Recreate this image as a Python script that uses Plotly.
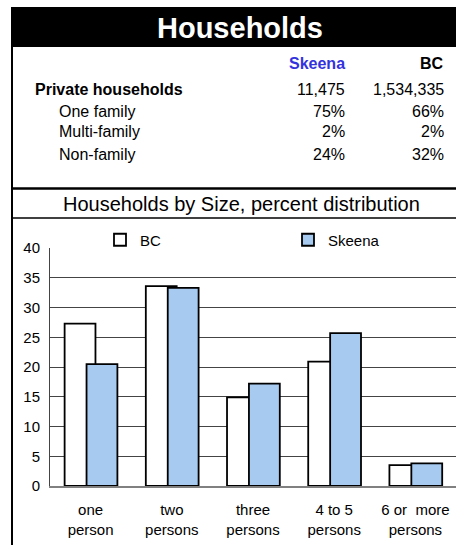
import plotly.graph_objects as go

categories = ["one<br>person", "two<br>persons", "three<br>persons", "4 to 5<br>persons", "6 or  more<br>persons"]
bc_values = [27.3, 33.6, 14.9, 20.9, 3.5]
skeena_values = [20.5, 33.3, 17.2, 25.7, 3.8]

table_rows = ["Private households", "One family", "Multi-family", "Non-family"]
table_skeena = ["11,475", "75%", "2%", "24%"]
table_bc = ["1,534,335", "66%", "2%", "32%"]

W, H = 456, 545
L, R, T, B = 50, 0, 248, 59
PW, PH = W - L - R, H - T - B
FONT = "Liberation Sans, Arial, sans-serif"


def xp(px):
    return (px - L) / PW


def yp(py):
    return (H - B - py) / PH


fig = go.Figure()
fig.add_trace(go.Bar(
    x=categories, y=bc_values, name="BC",
    marker=dict(color="white", line=dict(color="black", width=1.8)),
    offset=-0.32, width=0.38, legend="legend",
))
fig.add_trace(go.Bar(
    x=categories, y=skeena_values, name="Skeena",
    marker=dict(color="#a6caf0", line=dict(color="black", width=1.8)),
    offset=-0.05, width=0.38, legend="legend2",
))

shapes = [
    dict(type="rect", xref="paper", yref="paper", x0=xp(12), x1=xp(460), y0=yp(47), y1=yp(7),
         fillcolor="black", line=dict(width=0), layer="below"),
    dict(type="line", xref="paper", yref="paper", x0=xp(12), x1=xp(12), y0=yp(7), y1=yp(548),
         line=dict(color="black", width=2)),
    dict(type="line", xref="paper", yref="paper", x0=xp(12), x1=xp(460), y0=yp(188.5), y1=yp(188.5),
         line=dict(color="black", width=2.5)),
    dict(type="line", xref="paper", yref="paper", x0=xp(12), x1=xp(460), y0=yp(218), y1=yp(218),
         line=dict(color="black", width=1.5)),
]

annotations = [
    dict(text="<b>Households</b>", x=xp(240), y=yp(28), font=dict(size=29, color="white")),
    dict(text="<b>Skeena</b>", x=xp(347), y=yp(63.5), xanchor="right", font=dict(size=16, color="#3333dd")),
    dict(text="<b>BC</b>", x=xp(446), y=yp(63.5), xanchor="right", font=dict(size=16, color="black")),
    dict(text="Households by Size, percent distribution", x=xp(241), y=yp(203.5),
         font=dict(size=20, color="black")),
]
row_y = [89.5, 111.5, 131.5, 154]
row_x = [33, 57, 57, 57]
for i, lab in enumerate(table_rows):
    bold = i == 0
    annotations.append(dict(text=f"<b>{lab}</b>" if bold else lab, x=xp(row_x[i]), y=yp(row_y[i]),
                            xanchor="left", font=dict(size=16, color="black")))
    annotations.append(dict(text=table_skeena[i], x=xp(347), y=yp(row_y[i]), xanchor="right",
                            font=dict(size=16, color="black")))
    annotations.append(dict(text=table_bc[i], x=xp(446), y=yp(row_y[i]), xanchor="right",
                            font=dict(size=16, color="black")))
for a in annotations:
    a.update(xref="paper", yref="paper", showarrow=False, yanchor="middle")
    a.setdefault("xanchor", "center")

fig.update_layout(
    width=W, height=H,
    margin=dict(l=L, r=R, t=T, b=B, pad=0),
    paper_bgcolor="white", plot_bgcolor="white",
    font=dict(family=FONT, size=15, color="black"),
    barmode="overlay",
    shapes=shapes,
    annotations=annotations,
    showlegend=True,
    legend=dict(x=xp(100), y=yp(240), xanchor="left", yanchor="middle", orientation="h",
                bgcolor="rgba(0,0,0,0)", font=dict(size=15), itemwidth=30),
    legend2=dict(x=xp(288), y=yp(240), xanchor="left", yanchor="middle", orientation="h",
                 bgcolor="rgba(0,0,0,0)", font=dict(size=15), itemwidth=30),
    xaxis=dict(range=[-0.5, 4.5], showgrid=False, showline=True, linecolor="#808080", linewidth=2,
               ticks="", tickfont=dict(size=15), ticklabelstandoff=9, fixedrange=True),
    yaxis=dict(range=[0, 40], dtick=5, showgrid=True, gridcolor="#444444", gridwidth=1,
               showline=True, linecolor="#444444", linewidth=1, zeroline=False,
               ticks="inside", ticklen=3, tickcolor="#444444",
               tickfont=dict(size=15), ticklabelstandoff=6, fixedrange=True),
)

fig.write_html("out.html", config={"displayModeBar": False},
               post_script="document.body.style.margin='0';")
